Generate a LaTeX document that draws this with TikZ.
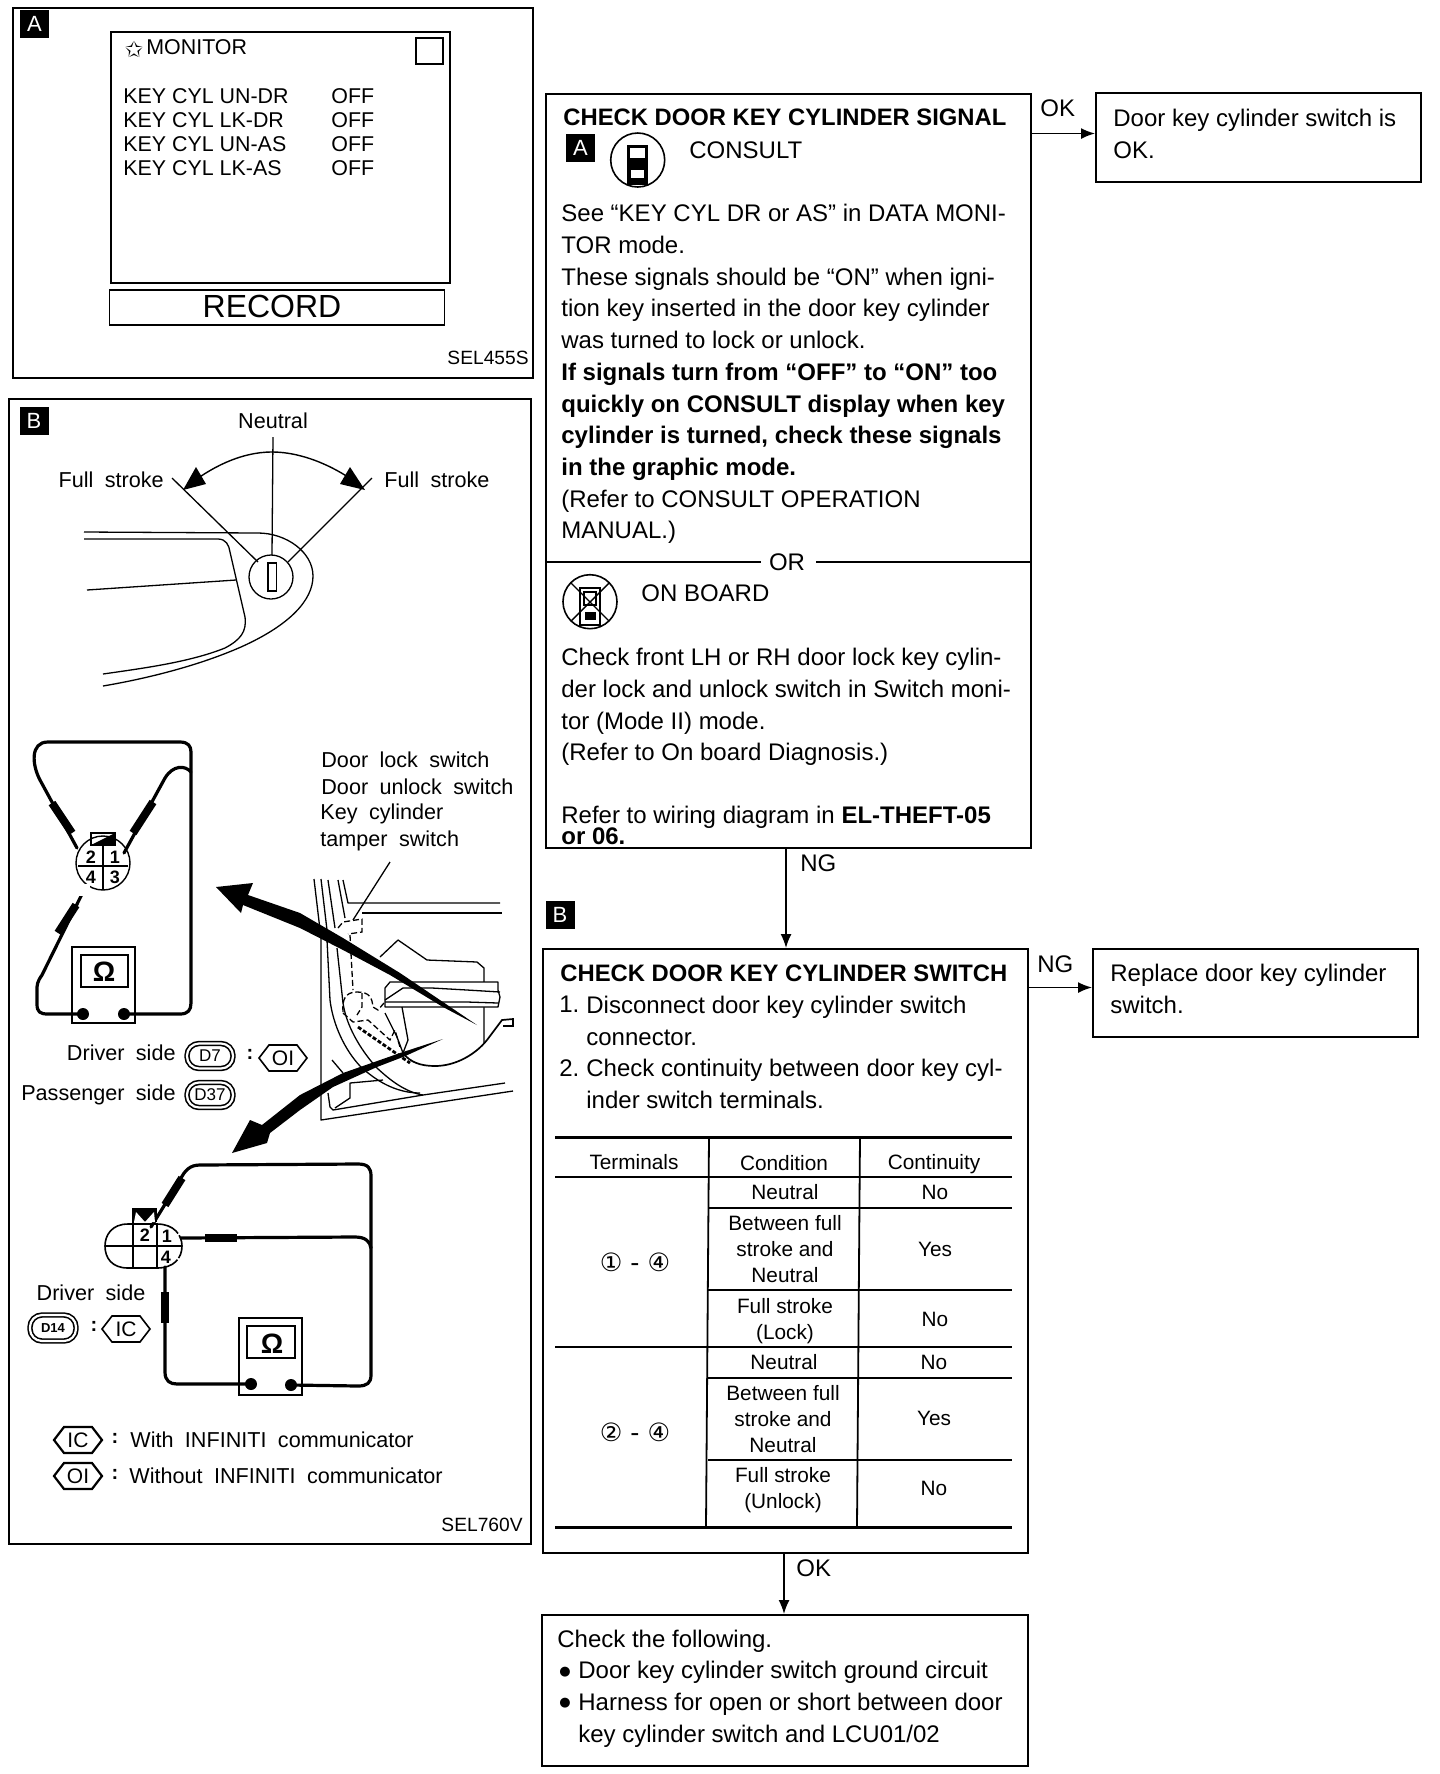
\documentclass[tikz,border=0pt]{standalone}
\usepackage{fontspec}
\setmainfont{Liberation Sans}
\newfontfamily\wfont[WordSpace=1.9]{Liberation Sans}
\newfontfamily\djfont{DejaVu Sans}
\usetikzlibrary{arrows.meta,calc}
\tikzset{
  panel/.style={draw=black,line width=0.85pt,inner sep=0pt,anchor=north west},
  flowbox/.style={draw=black,line width=0.9pt,inner sep=0pt,anchor=north west},
  body/.style={inner sep=0pt,anchor=north west,align=left,font=\fontsize{12}{15.85}\selectfont},
  ttl/.style={inner sep=0pt,anchor=west,font=\bfseries\fontsize{11.9}{14}\selectfont},
  lbl/.style={inner sep=0pt,anchor=west,font=\fontsize{12}{14}\selectfont},
  cellc/.style={inner sep=0pt,align=center,font=\fontsize{10.4}{13}\selectfont},
  conn/.style={line width=0.8pt,black,-{Latex[length=7pt,width=5.5pt]}},
  tagbox/.style={fill=black,text=white,inner sep=0pt,minimum width=14.5pt,minimum height=14pt,font=\fontsize{11}{11}\selectfont},
  fig/.style={inner sep=0pt,font=\wfont\fontsize{10.8}{12}\selectfont},
  figL/.style={fig,anchor=west},
  scr/.style={inner sep=0pt,anchor=west,font=\fontsize{10.7}{12}\selectfont},
  wire/.style={line width=1.6pt,black,line join=round,line cap=round},
  probe/.style={line width=4pt,black},
  sketch/.style={line width=0.65pt,black,line join=round},
  dsh/.style={line width=0.65pt,black,dash pattern=on 3pt off 1.5pt},
  conbadge/.style={draw=black,line width=0.8pt,double=white,double distance=1.1pt,rounded corners=6pt,inner sep=0pt,font=\fontsize{8.5}{9}\selectfont},
  tblmajor/.style={line width=1.5pt,black},
  tblminor/.style={line width=0.9pt,black},
}
\newcommand{\hexbadge}[5]{% name x y text linewidth
  \draw[line width=#5] (#2-24,#3) -- (#2-14,#3-13) -- (#2+14,#3-13) -- (#2+24,#3) -- (#2+14,#3+13) -- (#2-14,#3+13) -- cycle;
  \node[inner sep=0pt,font=\fontsize{10.5}{12}\selectfont] (#1) at (#2,#3) {#4};
}
\begin{document}
\begin{tikzpicture}[x=0.5pt,y=-0.5pt]
\useasboundingbox (0,0) rectangle (1440,1774);
\fill[white] (0,0) rectangle (1440,1774);

%% ---------- Panel A ----------
\node[panel,minimum width=260pt,minimum height=185pt] (panelA) at (12,7) {};
\node[tagbox] (tagA) at (34.5,24) {A};
\node[draw=black,line width=0.8pt,inner sep=0pt,anchor=north west,minimum width=169.5pt,minimum height=125.5pt] (screen) at (110,31) {};
\node[draw=black,line width=0.9pt,inner sep=0pt,anchor=north west,minimum width=13.5pt,minimum height=13pt] (smallsq) at (415,37) {};
\node[inner sep=0pt,font=\djfont\fontsize{11}{12}\selectfont] (star) at (134,49) {✩};
\node[scr] (monitor) at (146,47) {MONITOR};
\node[scr] (k1) at (123,96) {KEY CYL UN-DR};
\node[scr] (k2) at (123,120) {KEY CYL LK-DR};
\node[scr] (k3) at (123,144) {KEY CYL UN-AS};
\node[scr] (k4) at (123,168) {KEY CYL LK-AS};
\node[scr] (o1) at (331,96) {OFF};
\node[scr] (o2) at (331,120) {OFF};
\node[scr] (o3) at (331,144) {OFF};
\node[scr] (o4) at (331,168) {OFF};
\node[draw=black,line width=0.8pt,inner sep=0pt,anchor=north west,minimum width=167.5pt,minimum height=17.5pt] (recbox) at (108.5,289) {};
\node[inner sep=0pt,font=\fontsize{16}{18}\selectfont] (record) at (272,306) {RECORD};
\node[inner sep=0pt,anchor=east,font=\fontsize{9.6}{11}\selectfont] (sel455) at (529,358) {SEL455S};

%% ---------- Panel B ----------
\node[panel,minimum width=261pt,minimum height=572.5pt] (panelB) at (8,398) {};
\node[tagbox] (tagB) at (34,421) {B};
\node[fig] (neutral) at (273,421) {Neutral};
\node[fig,anchor=east] (fsl) at (164,480) {Full stroke};
\node[figL] (fsr) at (384,480) {Full stroke};
% key cylinder sketch
\draw[sketch] (273,437) -- (272,555);
\draw[sketch] (172,478) -- (258,562);
\draw[sketch] (372,478) -- (288,562);
\draw[line width=0.7pt] (186,487) .. controls (210,468) and (240,452) .. (272,452) .. controls (304,452) and (338,468) .. (362,487);
\fill (183,490) -- (196,467) -- (206,484) -- cycle;
\fill (365,490) -- (350,467) -- (340,484) -- cycle;
\draw[sketch] (271,577) circle[radius=11pt];
\draw[line width=0.8pt] (268,563) rectangle (276.5,591);
\draw[sketch] (84,532) -- (258,533) .. controls (286,533) and (313,552) .. (313,576) .. controls (313,600) and (290,625) .. (241,647) .. controls (200,665) and (150,678) .. (103,686);
\draw[sketch] (84,539) -- (218,539) .. controls (226,539) and (229,545) .. (230,552) -- (245,617) .. controls (247,632) and (240,640) .. (225,648) .. controls (190,662) and (145,668) .. (103,674);
\draw[sketch] (87,590) -- (236,580);
% connector (driver/passenger)
\draw[wire] (77,848) -- (40,780) .. controls (32,765) and (30,742) .. (48,742) -- (180,742) .. controls (188,742) and (191,746) .. (191,752) -- (191,1003) .. controls (191,1010) and (188,1014) .. (180,1014) -- (124,1014);
\draw[wire] (124,853) -- (165,778) .. controls (173,765) and (185,765) .. (191,772);
\draw[probe] (52,803) -- (72,833);
\draw[probe] (133,833) -- (153,802);
\draw[wire] (84,890) -- (42,975) .. controls (37,982) and (37,985) .. (37,990) -- (37,1004) .. controls (37,1012) and (40,1014) .. (48,1014) -- (83,1014);
\draw[probe] (76,905) -- (58,933);
\draw[line width=0.7pt] (103,863) circle[radius=13.5pt];
\fill[white] (78,884) rectangle (90,896);
\draw[line width=0.9pt] (91,845) -- (91,833) -- (115,833) -- (115,845) -- cycle;
\fill (91,845) -- (115,833) -- (115,845) -- cycle;
\draw[line width=0.8pt] (78,866) -- (128,866);
\draw[line width=0.8pt] (103,846) -- (103,890);
\node[inner sep=0pt,font=\bfseries\fontsize{9}{10}\selectfont] (pa2) at (91,857) {2};
\node[inner sep=0pt,font=\bfseries\fontsize{9}{10}\selectfont] (pa1) at (115,857) {1};
\node[inner sep=0pt,font=\bfseries\fontsize{9}{10}\selectfont] (pa4) at (91,877) {4};
\node[inner sep=0pt,font=\bfseries\fontsize{9}{10}\selectfont] (pa3) at (115,877) {3};
% meter A
\draw[line width=1.1pt] (72,947) rectangle (135,1023);
\draw[line width=1.1pt,fill=white] (81,955) rectangle (128,987);
\node[inner sep=0pt,font=\bfseries\fontsize{14}{15}\selectfont] (omA) at (104,972) {Ω};
\fill (83,1014) circle[radius=3pt];
\fill (124,1014) circle[radius=3pt];
% text
\node[figL] (dl1) at (321,760) {Door lock switch};
\node[figL] (dl2) at (321,787) {Door unlock switch};
\node[figL] (dl3) at (320,814) {Key cylinder};
\node[figL] (dl4) at (320,841) {tamper switch};
% door sketch
\draw[sketch] (390,862) -- (353,920);
\draw[sketch] (314,879) -- (321,938) -- (321,1120) -- (513,1091);
\draw[sketch] (321,879) -- (327,930);
\draw[sketch] (328,880) -- (335,928);
\draw[sketch] (338,880) -- (345,918);
\draw[sketch] (343,880) -- (348,903) -- (500,903);
\draw[sketch] (362,913) -- (502,913);
\draw[sketch] (327,940) -- (330,1000) .. controls (333,1025) and (345,1050) .. (360,1066) .. controls (375,1080) and (395,1093) .. (420,1093);
\draw[sketch] (337,948) -- (343,1003) .. controls (347,1030) and (365,1055) .. (377,1068) .. controls (390,1080) and (405,1092) .. (423,1095);
\draw[sketch] (332,1060) -- (343,1073);
\draw[sketch] (335,1108) -- (350,1098) -- (350,1083) -- (383,1080);
\draw[sketch] (328,1093) -- (330,1107) -- (333,1110) -- (423,1095) -- (505,1083);
\draw[dsh] (338,928) -- (343,922) -- (362,919) -- (362,932) -- (348,934);
\draw[dsh] (350,935) -- (353,990);
\draw[dsh] (343,1012) .. controls (342,1000) and (345,992) .. (357,992) .. controls (370,992) and (372,998) .. (373,1007) -- (378,1010) -- (384,1003);
\draw[dsh] (362,993) -- (362,1007) -- (357,1015);
\draw[dsh] (343,1013) -- (353,1022) -- (368,1020) -- (390,1040) -- (395,1030) -- (400,1047);
\draw[line width=1.4pt,dash pattern=on 2pt off 1pt] (358,1027) -- (410,1063);
\draw[sketch] (380,957) -- (398,940) -- (427,960) -- (477,962) -- (484,968) -- (484,1043);
\draw[sketch,fill=white] (385,1007) -- (385,988) -- (390,982) -- (498,982) -- (498,990) -- (500,997) -- (498,1007) -- cycle;
\draw[sketch] (385,1000) -- (403,988) -- (432,988) -- (467,990) -- (500,992);
\draw[sketch] (385,1002) -- (467,1002) -- (498,1003);
\draw[sketch] (385,1013) -- (397,1037) -- (403,1053);
\draw[sketch] (402,1007) -- (408,1040) -- (403,1053);
\draw[line width=0.85pt] (403,1053) .. controls (410,1062) and (420,1066) .. (435,1066) .. controls (455,1066) and (475,1055) .. (487,1040) -- (502,1020) -- (513,1019) -- (513,1026) -- (503,1026);
% big arrows
\fill (216,887) -- (253,883) -- (248,895) -- (300,913) -- (343,938) -- (400,973) -- (440,1000) -- (477,1025) -- (443,1007) -- (390,975) -- (343,950) -- (300,928) -- (243,905) -- (241,913) -- cycle;
\fill (232,1153) -- (250,1120) -- (262,1125) -- (300,1095) -- (343,1073) -- (400,1053) -- (443,1039) -- (403,1057) -- (377,1067) -- (333,1087) -- (300,1110) -- (270,1133) -- (267,1143) -- cycle;
% badges
\node[fig,anchor=east] (drv) at (176,1053) {Driver side};
\node[fig,anchor=east] (pas) at (176,1095) {Passenger side};
\node[conbadge,minimum width=23pt,minimum height=12.5pt] (d7) at (210,1056) {D7};
\node[inner sep=0pt,font=\bfseries\fontsize{10}{11}\selectfont] (colA) at (250,1054) {:};
\hexbadge{hexOIa}{283}{1058}{OI}{0.8pt}
\node[conbadge,minimum width=23pt,minimum height=12.5pt] (d37) at (210,1095) {D37};
% connector 2
\draw[wire] (151,1227) -- (180,1180) .. controls (185,1170) and (190,1165) .. (200,1165) -- (358,1164) .. controls (368,1164) and (371,1168) .. (371,1176) -- (371,1375) .. controls (371,1383) and (367,1386) .. (358,1386) -- (291,1385);
\draw[probe] (165,1205) -- (182,1178);
\draw[wire] (181,1238) -- (355,1237) .. controls (365,1237) and (370,1241) .. (371,1248);
\draw[probe] (205,1238) -- (237,1238);
\draw[wire] (165,1267) -- (165,1372) .. controls (165,1381) and (170,1384) .. (177,1384) -- (251,1384);
\draw[probe] (165,1292) -- (165,1323);
\draw[line width=0.8pt] (132,1224) -- (128,1224) .. controls (112,1224) and (105,1235) .. (105,1246) .. controls (105,1258) and (112,1268) .. (128,1268) -- (157,1268) ;
\draw[line width=0.8pt,dash pattern=on 12pt off 1pt] (157,1224) .. controls (174,1224) and (182,1235) .. (182,1246) .. controls (182,1258) and (174,1268) .. (157,1268);
\draw[line width=0.8pt] (132,1224) -- (157,1224);
\draw[line width=0.8pt] (105,1246) -- (182,1246);
\draw[line width=0.8pt] (133,1208) -- (133,1268);
\draw[line width=0.8pt] (157,1224) -- (157,1268);
\fill (132,1208) -- (157,1208) -- (157,1222) -- (132,1222) -- cycle;
\fill[white] (136,1212) -- (145,1222) -- (134,1222) -- cycle;
\fill[white] (154,1212) -- (145,1222) -- (155,1222) -- cycle;
\node[inner sep=0pt,font=\bfseries\fontsize{9}{10}\selectfont] (pb2) at (145,1235) {2};
\node[inner sep=0pt,font=\bfseries\fontsize{9}{10}\selectfont] (pb1) at (167,1236) {1};
\node[inner sep=0pt,font=\bfseries\fontsize{9}{10}\selectfont] (pb4) at (166,1257) {4};
\node[fig] (drv2) at (91,1293) {Driver side};
\node[conbadge,minimum width=23pt,minimum height=13pt,font=\bfseries\fontsize{6.5}{7}\selectfont] (d14) at (53,1328) {D14};
\node[inner sep=0pt,font=\bfseries\fontsize{10}{11}\selectfont] (colB) at (94,1326) {:};
\hexbadge{hexICa}{126}{1329}{IC}{0.8pt}
\draw[line width=1.1pt] (239,1318) rectangle (302,1395);
\draw[line width=1.1pt] (247,1326) rectangle (295,1358);
\node[inner sep=0pt,font=\bfseries\fontsize{14}{15}\selectfont] (omB) at (272,1344) {Ω};
\fill (251,1384) circle[radius=3pt];
\fill (291,1385) circle[radius=3pt];
% legend
\hexbadge{hexICb}{78}{1440}{IC}{1.1pt}
\hexbadge{hexOIb}{78}{1476}{OI}{1.1pt}
\node[inner sep=0pt,font=\bfseries\fontsize{10}{11}\selectfont] (colC) at (115,1438) {:};
\node[inner sep=0pt,font=\bfseries\fontsize{10}{11}\selectfont] (colD) at (115,1474) {:};
\node[figL] (leg1) at (130,1440) {With INFINITI communicator};
\node[figL] (leg2) at (129,1476) {Without INFINITI communicator};
\node[inner sep=0pt,anchor=east,font=\fontsize{9.6}{11}\selectfont] (sel760) at (523,1525) {SEL760V};

%% ---------- Flow chart ----------
\node[flowbox,minimum width=242.5pt,minimum height=377pt] (b1) at (545,93) {};
\node[ttl] (t1) at (563,117) {CHECK DOOR KEY CYLINDER SIGNAL};
\node[tagbox] (tagA2) at (580.5,147.5) {A};
\draw[line width=0.8pt] (637.7,160) circle[radius=13.5pt];
\fill (627,145) rectangle (648,185);
\fill[white] (630,148) rectangle (645,158);
\fill[white] (631,170) rectangle (644,178);
\node[lbl] (consult) at (689,150) {CONSULT};
\node[body] (txt1) at (561,204) {See “KEY CYL DR or AS” in DATA MONI-\\TOR mode.\\These signals should be “ON” when igni-\\tion key inserted in the door key cylinder\\was turned to lock or unlock.\\\textbf{If signals turn from “OFF” to “ON” too}\\\textbf{quickly on CONSULT display when key}\\\textbf{cylinder is turned, check these signals}\\\textbf{in the graphic mode.}\\(Refer to CONSULT OPERATION\\MANUAL.)};
\node[lbl,anchor=center] (orl) at (787,562) {OR};
\draw[line width=0.8pt] (b1.west |- orl) -- ($(orl.west)+(-8,0)$);
\draw[line width=0.8pt] (816,562) -- (orl -| b1.east);
\draw[line width=0.8pt] (590,601.7) circle[radius=13.5pt];
\draw[line width=0.7pt] (571,583) -- (609,621);
\draw[line width=0.7pt] (609,583) -- (571,621);
\draw[line width=0.7pt] (580,588) rectangle (600,625);
\draw[line width=1.2pt] (584,592) rectangle (596,605);
\fill (585,612) rectangle (596,620);
\node[lbl] (onb) at (641,593) {ON BOARD};
\node[body] (txt2) at (561,648) {Check front LH or RH door lock key cylin-\\der lock and unlock switch in Switch moni-\\tor (Mode II) mode.\\(Refer to On board Diagnosis.)};
\node[lbl] (ref1) at (561,817) {Refer to wiring diagram in \textbf{EL-THEFT-05}};
\node[lbl] (ref2) at (561,836) {\textbf{or 06.}};

\node[flowbox,minimum width=162.5pt,minimum height=44.7pt] (b2) at (1095,92) {};
\node[body] (txt3) at (1113,109) {Door key cylinder switch is\\OK.};
\coordinate (okA) at (0,133.5);
\draw[conn] (okA -| b1.east) -- (okA -| b2.west);
\node[lbl] (okl1) at (1040,108) {OK};

\node[flowbox,minimum width=242.5pt,minimum height=302pt] (b3) at (542,948) {};
\coordinate (ngB) at (786,0);
\draw[conn] (ngB |- b1.south) -- (ngB |- b3.north);
\node[lbl] (ngl1) at (800,863) {NG};
\node[tagbox] (tagB2) at (560,915) {B};
\node[ttl] (t2) at (560,973) {CHECK DOOR KEY CYLINDER SWITCH};
\node[body] (n1) at (559,996) {1.};
\node[body] (s1) at (586,996) {Disconnect door key cylinder switch\\connector.};
\node[body] (n2) at (559,1059) {2.};
\node[body] (s2) at (586,1059) {Check continuity between door key cyl-\\inder switch terminals.};

\node[flowbox,minimum width=162.5pt,minimum height=44pt] (b4) at (1092,948) {};
\node[body] (txt4) at (1110,964) {Replace door key cylinder\\switch.};
\coordinate (ngC) at (0,987.5);
\draw[conn] (ngC -| b3.east) -- (ngC -| b4.west);
\node[lbl] (ngl2) at (1037,964) {NG};

%% table
\draw[tblmajor] (555,1137) -- (1012,1137);
\draw[tblmajor] (555,1527) -- (1012,1527);
\draw[tblminor] (555,1177) -- (1012,1177);
\draw[tblminor] (555,1347) -- (1012,1347);
\draw[tblminor] (708,1208) -- (1012,1208);
\draw[tblminor] (708,1290) -- (1012,1290);
\draw[tblminor] (708,1378) -- (1012,1378);
\draw[tblminor] (708,1460) -- (1012,1460);
\draw[tblminor] (709,1137) -- (706,1527);
\draw[tblminor] (860,1137) -- (857,1527);
\node[cellc] (h1) at (634,1162) {Terminals};
\node[cellc] (h2) at (784,1163) {Condition};
\node[cellc] (h3) at (934,1164) {Continuity};
\node[cellc] (r1a) at (785,1192) {Neutral};
\node[cellc] (r1b) at (935,1192) {No};
\node[cellc] (r2a) at (785,1249) {Between full\\stroke and\\Neutral};
\node[cellc] (r2b) at (935,1249) {Yes};
\node[cellc] (r3a) at (785,1321) {Full stroke\\(Lock)};
\node[cellc] (r3b) at (935,1319) {No};
\node[cellc] (r4a) at (784,1362) {Neutral};
\node[cellc] (r4b) at (934,1362) {No};
\node[cellc] (r5a) at (783,1419) {Between full\\stroke and\\Neutral};
\node[cellc] (r5b) at (934,1418) {Yes};
\node[cellc] (r6a) at (783,1490) {Full stroke\\(Unlock)};
\node[cellc] (r6b) at (934,1488) {No};
\node[inner sep=0pt,font=\djfont\fontsize{12.6}{14}\selectfont] (term1) at (635,1262) {① - ④};
\node[inner sep=0pt,font=\djfont\fontsize{12.6}{14}\selectfont] (term2) at (635,1432) {② - ④};

\node[flowbox,minimum width=243pt,minimum height=75.5pt] (b5) at (541,1614) {};
\coordinate (okD) at (784,0);
\draw[conn] (okD |- b3.south) -- (okD |- b5.north);
\node[lbl] (okl2) at (796,1568) {OK};
\node[body] (txt5) at (557,1630) {Check the following.};
\node[inner sep=0pt,font=\djfont\fontsize{6.5}{8}\selectfont] (bul1) at (565,1672) {●};
\node[inner sep=0pt,font=\djfont\fontsize{6.5}{8}\selectfont] (bul2) at (565,1703) {●};
\node[body] (txt6) at (578,1661) {Door key cylinder switch ground circuit\\Harness for open or short between door\\key cylinder switch and LCU01/02};
\end{tikzpicture}
\end{document}
